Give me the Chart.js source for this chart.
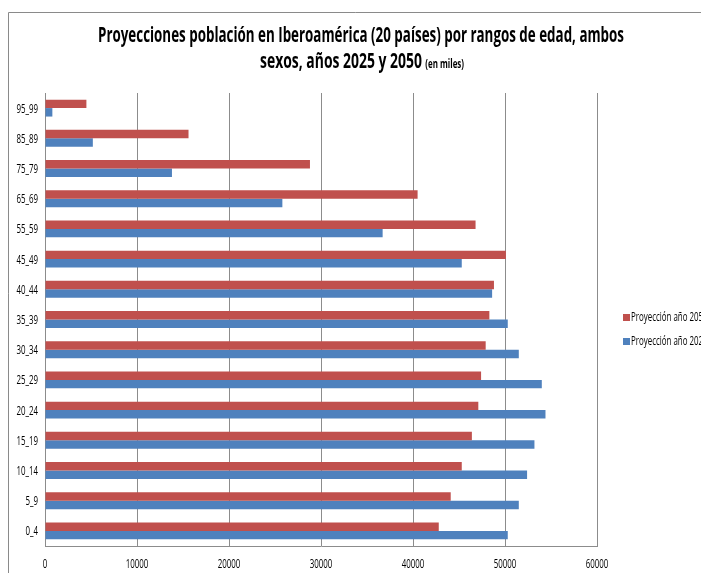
<!DOCTYPE html>
<html lang="es">
<head>
<meta charset="utf-8">
<title>Proyecciones población en Iberoamérica</title>
<script src="https://cdn.jsdelivr.net/npm/chart.js@4/dist/chart.umd.min.js"></script>
<style>
  html, body { margin: 0; padding: 0; background: #fff; overflow: hidden; }
  #wrap { width: 701px; height: 573px; position: relative; }
  canvas { display: block; }
</style>
</head>
<body>
<div id="wrap"><canvas id="chart" width="701" height="573"></canvas></div>
<script>
// Age ranges, oldest at the top
const categories = ['95_99', '85_89', '75_79', '65_69', '55_59', '45_49', '40_44',
                    '35_39', '30_34', '25_29', '20_24', '15_19', '10_14', '5_9', '0_4'];

// Population in thousands
const proj2050 = [4500, 15600, 28800, 40500, 46800, 50100, 48800,
                  48300, 47900, 47400, 47100, 46400, 45300, 44100, 42800];
const proj2025 = [800, 5200, 13800, 25800, 36700, 45300, 48600,
                  50300, 51500, 54000, 54400, 53200, 52400, 51500, 50300];

const seriesNames = ['Proyección año 2050', 'Proyección año 2025'];
const seriesColors = ['#C0504D', '#4F81BD'];

const titleLine1 = 'Proyecciones población en Iberoamérica (20 países) por rangos de edad, ambos';
const titleLine2 = 'sexos, años 2025 y 2050';
const titleUnit = '(en miles)';

const xMin = 0, xMax = 60000, xStep = 10000;

const FONT = "'Open Sans', 'Liberation Sans', sans-serif";
const GRID = '#8c8c8c';
const NARROW = 0.66;   // horizontal squeeze for the small condensed labels

// Outer frame of the chart object
const framePlugin = {
  id: 'frame',
  beforeDraw(chart) {
    const ctx = chart.ctx;
    ctx.save();
    ctx.strokeStyle = '#8a8a8a';
    ctx.lineWidth = 1;
    ctx.beginPath();
    ctx.moveTo(8.5, chart.height + 5);
    ctx.lineTo(8.5, 12.5);
    ctx.lineTo(chart.width + 5, 12.5);
    ctx.stroke();
    ctx.restore();
  }
};

// Draws text squeezed to a given width
function fitText(ctx, parts, left, width, baseline) {
  let total = 0;
  const widths = parts.map(p => { ctx.font = p.font; const w = ctx.measureText(p.text).width; total += w + (p.gap || 0); return w; });
  const k = width / total;
  ctx.save();
  ctx.translate(left, baseline);
  ctx.scale(k, 1);
  let x = 0;
  parts.forEach((p, i) => {
    ctx.font = p.font;
    ctx.fillText(p.text, x, 0);
    x += widths[i] + (p.gap || 0);
  });
  ctx.restore();
}

// Condensed single label; align is 'left' | 'center' | 'right'
function narrowText(ctx, text, x, y, align) {
  ctx.save();
  ctx.translate(x, y);
  ctx.scale(NARROW, 1);
  ctx.textAlign = align;
  ctx.textBaseline = 'middle';
  ctx.fillText(text, 0, 0);
  ctx.restore();
}

const titlePlugin = {
  id: 'twoLineTitle',
  afterDraw(chart) {
    const ctx = chart.ctx;
    ctx.save();
    ctx.fillStyle = '#000';
    ctx.textBaseline = 'alphabetic';
    ctx.textAlign = 'left';
    fitText(ctx, [{ text: titleLine1, font: 'bold 21px ' + FONT }], 98, 526, 42);
    fitText(ctx, [
      { text: titleLine2, font: 'bold 21px ' + FONT, gap: 5 },
      { text: titleUnit, font: 'bold 12px ' + FONT }
    ], 260, 204, 68);
    ctx.restore();
  }
};

// Tick labels of both axes, placed with the scales' own pixel mapping
const tickLabelPlugin = {
  id: 'narrowTicks',
  afterDraw(chart) {
    const ctx = chart.ctx;
    const xs = chart.scales.x, ys = chart.scales.y;
    ctx.save();
    ctx.fillStyle = '#000';
    ctx.font = '12px ' + FONT;
    xs.ticks.forEach(t => {
      narrowText(ctx, String(t.value), xs.getPixelForValue(t.value), chart.chartArea.bottom + 19, 'center');
    });
    ys.getLabels().forEach((lab, i) => {
      narrowText(ctx, lab, chart.chartArea.left - 7, ys.getPixelForValue(i) + 1, 'right');
    });
    ctx.restore();
  }
};

// Legend at the right edge, same order as the datasets
const legendPlugin = {
  id: 'sideLegend',
  afterDraw(chart) {
    const ctx = chart.ctx;
    ctx.save();
    ctx.font = '12px ' + FONT;
    chart.data.datasets.forEach((ds, i) => {
      const cy = 317 + i * 24;
      ctx.fillStyle = ds.backgroundColor;
      ctx.fillRect(623, cy - 3, 7, 7);
      ctx.fillStyle = '#000';
      narrowText(ctx, ds.label, 631, cy + 0.5, 'left');
    });
    ctx.restore();
  }
};

new Chart(document.getElementById('chart'), {
  type: 'bar',
  data: {
    labels: categories,
    datasets: [
      { label: seriesNames[0], data: proj2050, backgroundColor: seriesColors[0] },
      { label: seriesNames[1], data: proj2025, backgroundColor: seriesColors[1] }
    ]
  },
  options: {
    indexAxis: 'y',
    responsive: false,
    animation: false,
    devicePixelRatio: 1,
    categoryPercentage: 0.56,
    barPercentage: 1,
    layout: { padding: { left: 8, top: 93, right: 104, bottom: 0 } },
    plugins: {
      legend: { display: false },
      title: { display: false },
      tooltip: { enabled: false }
    },
    scales: {
      x: {
        min: xMin,
        max: xMax,
        ticks: { stepSize: xStep, display: false },
        grid: { color: GRID, lineWidth: 1, drawTicks: false },
        border: { display: true, color: GRID, width: 1 },
        afterFit(scale) { scale.height = 27; }
      },
      y: {
        ticks: { display: false },
        grid: { display: false, drawTicks: false },
        border: { display: true, color: GRID, width: 1 },
        afterFit(scale) { scale.width = 37; }
      }
    }
  },
  plugins: [framePlugin, titlePlugin, tickLabelPlugin, legendPlugin]
});
</script>
</body>
</html>
